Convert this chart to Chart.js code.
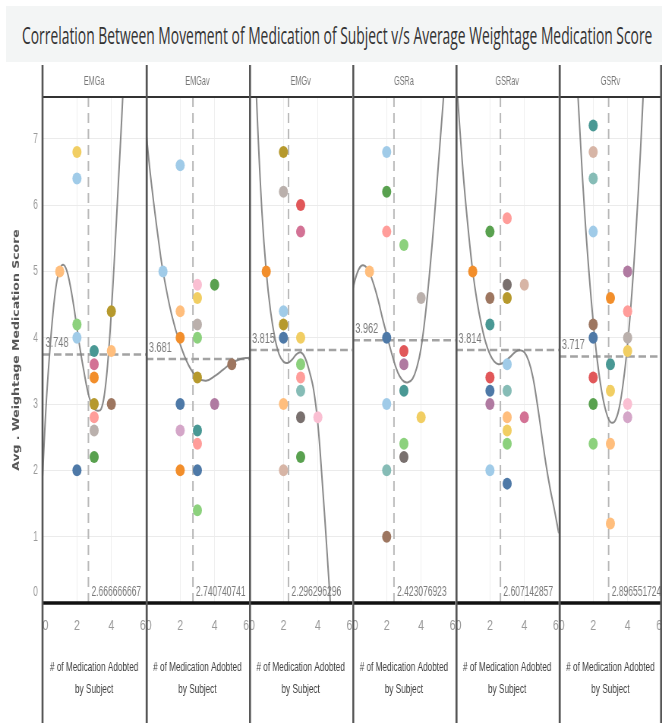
<!DOCTYPE html>
<html>
<head>
<meta charset="utf-8">
<script src="https://cdn.jsdelivr.net/npm/chart.js@4.4.1/dist/chart.umd.min.js"></script>
<style>
  html, body { margin: 0; padding: 0; background: #ffffff; overflow: hidden; }
  /* the whole dashboard is laid out wide, then condensed horizontally */
  #page { position: absolute; left: 0; top: 0; width: 872px; height: 723px;
          transform: scaleX(0.7592); transform-origin: 0 0; }
  #titleBand { position: absolute; left: 8px; top: 6px; width: 864px; height: 56px; background: #f3f5f5; }
  #title { position: absolute; top: 0; left: 0; height: 56px; line-height: 58px; white-space: nowrap;
           font-family: 'Open Sans', 'Liberation Sans', sans-serif; font-size: 24px; color: #333333;
           transform-origin: 0 50%; }
  canvas { position: absolute; top: 62px; }
</style>
</head>
<body>
<div id="page">
  <div id="titleBand"><div id="title">Correlation Between Movement of Medication of Subject v/s Average Weightage Medication Score</div></div>
  <canvas id="c0"></canvas><canvas id="c1"></canvas><canvas id="c2"></canvas>
  <canvas id="c3"></canvas><canvas id="c4"></canvas><canvas id="c5"></canvas>
</div>
<script>
// ---- data -------------------------------------------------------------
const panelNames = ['EMGa', 'EMGav', 'EMGv', 'GSRa', 'GSRav', 'GSRv'];
const yTickValues = [0, 1, 2, 3, 4, 5, 6, 7];
const xTickValues = [0, 2, 4, 6];
const xAxisTitle = ['# of Medication Adobted', 'by Subject'];
const yAxisTitle = 'Avg . Weightage Medication Score';

// reference lines: average score and average number of medications per panel
const avgScore = [3.748, 3.681, 3.815, 3.962, 3.814, 3.717];
const avgMeds = [2.666666667, 2.740740741, 2.296296296, 2.423076923, 2.607142857, 2.896551724];

// marks: medications adopted, average score, subject (colour key)
const emgaMeds    = [1, 2, 2, 2, 2, 2, 3, 3, 3, 3, 3, 3, 3, 4, 4, 4];
const emgaScore   = [5.0, 6.8, 6.4, 4.2, 4.0, 2.0, 3.8, 3.6, 3.4, 3.0, 2.8, 2.6, 2.2, 4.4, 3.8, 3.0];
const emgaSubject = [3, 7, 1, 5, 1, 0, 8, 14, 2, 6, 11, 13, 4, 6, 3, 18];

const emgavMeds    = [1, 2, 2, 2, 2, 2, 2, 3, 3, 3, 3, 3, 3, 3, 3, 3, 4, 4, 5];
const emgavScore   = [5.0, 6.6, 4.4, 4.0, 3.0, 2.6, 2.0, 4.8, 4.6, 4.2, 4.0, 3.4, 2.6, 2.4, 2.0, 1.4, 4.8, 3.0, 3.6];
const emgavSubject = [1, 1, 3, 2, 0, 17, 2, 15, 7, 13, 5, 6, 8, 11, 0, 5, 4, 16, 18];

const emgvMeds    = [1, 2, 2, 2, 2, 2, 2, 2, 3, 3, 3, 3, 3, 3, 3, 3, 4];
const emgvScore   = [5.0, 6.8, 6.2, 4.4, 4.2, 4.0, 3.0, 2.0, 6.0, 5.6, 4.0, 3.6, 3.4, 3.2, 2.8, 2.2, 2.8];
const emgvSubject = [2, 6, 13, 1, 6, 0, 3, 19, 10, 14, 7, 5, 11, 9, 12, 4, 15];

const gsraMeds    = [1, 2, 2, 2, 2, 2, 2, 2, 3, 3, 3, 3, 3, 3, 4, 4];
const gsraScore   = [5.0, 6.8, 6.2, 5.6, 4.0, 3.0, 2.0, 1.0, 5.4, 3.8, 3.6, 3.2, 2.4, 2.2, 4.6, 2.8];
const gsraSubject = [3, 1, 4, 11, 0, 1, 9, 18, 5, 10, 16, 8, 5, 12, 13, 7];

const gsravMeds    = [1, 2, 2, 2, 2, 2, 2, 2, 3, 3, 3, 3, 3, 3, 3, 3, 3, 4, 4];
const gsravScore   = [5.0, 5.6, 4.6, 4.2, 3.4, 3.2, 3.0, 2.0, 5.8, 4.8, 4.6, 3.6, 3.2, 2.8, 2.6, 2.4, 1.8, 4.8, 2.8];
const gsravSubject = [2, 4, 18, 8, 10, 0, 16, 1, 11, 12, 6, 1, 9, 3, 7, 5, 0, 19, 14];

const gsrvMeds    = [2, 2, 2, 2, 2, 2, 2, 2, 2, 3, 3, 3, 3, 3, 4, 4, 4, 4, 4, 4];
const gsrvScore   = [7.2, 6.8, 6.4, 5.6, 4.2, 4.0, 3.4, 3.0, 2.4, 4.6, 3.6, 3.2, 2.4, 1.2, 5.0, 4.4, 4.0, 3.8, 3.0, 2.8];
const gsrvSubject = [8, 19, 9, 1, 18, 0, 10, 4, 5, 2, 8, 7, 3, 3, 16, 11, 13, 7, 15, 17];

// polynomial trend curves, sampled
const emgaTrendMeds   = [0, 0.2, 0.4, 0.6, 0.8, 1.0, 1.2, 1.4, 1.6, 1.8, 2.0, 2.2, 2.4, 2.6, 2.8, 3.0, 3.2, 3.4, 3.6, 3.8, 4.0, 4.2, 4.4, 4.6, 4.8];
const emgaTrendScore  = [1.9, 2.95, 3.72, 4.35, 4.8, 5.03, 5.1, 5.02, 4.8, 4.5, 4.15, 3.8, 3.5, 3.22, 3.03, 2.93, 2.9, 2.92, 3.15, 3.65, 4.4, 5.3, 6.3, 7.3, 8.4];
const emgavTrendMeds  = [0, 0.25, 0.5, 0.75, 1, 1.5, 2, 2.5, 3, 3.5, 4, 4.5, 5, 5.5, 6];
const emgavTrendScore = [7.15, 6.5, 5.95, 5.45, 5.0, 4.35, 3.9, 3.58, 3.4, 3.35, 3.42, 3.52, 3.62, 3.68, 3.7];
const emgvTrendMeds   = [0.3, 0.5, 0.75, 1.0, 1.25, 1.5, 1.75, 2.0, 2.25, 2.5, 2.75, 3.0, 3.25, 3.5, 3.75, 4.0, 4.25, 4.5, 4.75];
const emgvTrendScore  = [8.5, 7.2, 5.9, 5.0, 4.4, 4.0, 3.75, 3.64, 3.62, 3.67, 3.75, 3.78, 3.7, 3.5, 3.22, 2.7, 1.85, 0.9, -0.1];
const gsraTrendMeds   = [0, 0.25, 0.5, 0.75, 1, 1.25, 1.5, 1.75, 2, 2.25, 2.5, 2.75, 3, 3.25, 3.5, 3.75, 4, 4.25, 4.5, 4.75, 5, 5.25, 5.5];
const gsraTrendScore  = [4.7, 4.95, 5.08, 5.08, 4.98, 4.8, 4.57, 4.3, 4.05, 3.8, 3.58, 3.42, 3.34, 3.33, 3.38, 3.55, 3.85, 4.35, 5.0, 5.75, 6.6, 7.45, 8.3];
const gsravTrendMeds  = [0, 0.25, 0.5, 0.75, 1, 1.25, 1.5, 1.75, 2, 2.25, 2.5, 2.75, 3, 3.25, 3.5, 3.75, 4, 4.25, 4.5, 4.75, 5, 5.25, 5.5, 5.75, 6];
const gsravTrendScore = [8.1, 7.15, 6.3, 5.6, 5.0, 4.55, 4.2, 3.93, 3.75, 3.64, 3.6, 3.62, 3.67, 3.73, 3.79, 3.81, 3.78, 3.65, 3.4, 3.0, 2.55, 2.1, 1.72, 1.4, 1.05];
const gsrvTrendMeds   = [1.0, 1.25, 1.5, 1.75, 2.0, 2.25, 2.5, 2.75, 3.0, 3.25, 3.5, 3.75, 4.0, 4.25, 4.5, 4.75, 5.0];
const gsrvTrendScore  = [8.2, 7.0, 5.9, 5.0, 4.24, 3.63, 3.18, 2.88, 2.73, 2.74, 2.93, 3.33, 3.91, 4.69, 5.66, 6.83, 8.2];

// ---- styling ------------------------------------------------------------
const TABLEAU20 = ['#4e79a7', '#a0cbe8', '#f28e2b', '#ffbe7d', '#59a14f', '#8cd17d', '#b6992d', '#f1ce63',
                   '#499894', '#86bcb6', '#e15759', '#ff9d9a', '#79706e', '#bab0ac', '#d37295', '#fabfd2',
                   '#b07aa1', '#d4a6c8', '#9d7660', '#d7b5a6'];
const FONT = "'Liberation Sans', Arial, sans-serif";
const Y_MAX = 7.63;
const AXIS_W = 56, PANEL_W = 136, CANVAS_H = 661, TOP_PAD = 35, X_AXIS_H = 120;

const panels = [
  { meds: emgaMeds,  score: emgaScore,  subject: emgaSubject,  tMeds: emgaTrendMeds,  tScore: emgaTrendScore },
  { meds: emgavMeds, score: emgavScore, subject: emgavSubject, tMeds: emgavTrendMeds, tScore: emgavTrendScore },
  { meds: emgvMeds,  score: emgvScore,  subject: emgvSubject,  tMeds: emgvTrendMeds,  tScore: emgvTrendScore },
  { meds: gsraMeds,  score: gsraScore,  subject: gsraSubject,  tMeds: gsraTrendMeds,  tScore: gsraTrendScore },
  { meds: gsravMeds, score: gsravScore, subject: gsravSubject, tMeds: gsravTrendMeds, tScore: gsravTrendScore },
  { meds: gsrvMeds,  score: gsrvScore,  subject: gsrvSubject,  tMeds: gsrvTrendMeds,  tScore: gsrvTrendScore },
];

const toPoints = (xs, ys) => xs.map((x, i) => ({ x, y: ys[i] }));

// narrow text: draw with a horizontal squeeze
function narrowText(ctx, text, x, y, align, squeeze) {
  ctx.save();
  ctx.translate(x, y);
  ctx.scale(squeeze, 1);
  ctx.textAlign = align;
  ctx.fillText(text, 0, 0);
  ctx.restore();
}

// header, panel frame, reference labels and axis titles
const panelDecor = {
  id: 'panelDecor',
  afterDatasetsDraw(chart, args, opts) {
    const { ctx, chartArea: a, scales: { x, y } } = chart;
    const k = opts.k;
    ctx.save();
    ctx.font = `14px ${FONT}`;
    ctx.fillStyle = '#7a7a7a';
    ctx.textBaseline = 'middle';
    narrowText(ctx, String(avgScore[k]), a.left + 4, y.getPixelForValue(avgScore[k]) - 11, 'left', 0.86);
    narrowText(ctx, String(avgMeds[k]), x.getPixelForValue(avgMeds[k]) + 4, a.bottom - 11, 'left', 0.8);
    ctx.restore();
  },
  afterDraw(chart, args, opts) {
    const { ctx, chartArea: a, scales: { y } } = chart;
    const k = opts.k;
    const H = chart.height;
    const cx = (a.left + a.right) / 2;
    ctx.save();
    ctx.textBaseline = 'middle';
    // panel header
    ctx.font = `12px ${FONT}`;
    ctx.fillStyle = '#777';
    narrowText(ctx, panelNames[k], cx, 20, 'center', 0.8);
    // header rule and base rule
    ctx.strokeStyle = '#333';
    ctx.lineWidth = 2;
    ctx.beginPath(); ctx.moveTo(a.left, a.top); ctx.lineTo(a.right, a.top); ctx.stroke();
    ctx.strokeStyle = '#111';
    ctx.lineWidth = 3.5;
    ctx.beginPath(); ctx.moveTo(a.left, a.bottom); ctx.lineTo(a.right, a.bottom); ctx.stroke();
    // panel dividers
    ctx.strokeStyle = '#555';
    ctx.lineWidth = 2.6;
    const lx = k === 0 ? a.left : a.left + 1.3;
    ctx.beginPath(); ctx.moveTo(lx, 3); ctx.lineTo(lx, H); ctx.stroke();
    if (k === panelNames.length - 1) {
      ctx.beginPath(); ctx.moveTo(a.right - 1.3, 3); ctx.lineTo(a.right - 1.3, H); ctx.stroke();
    }
    // x axis title
    ctx.font = `13.5px ${FONT}`;
    ctx.fillStyle = '#404040';
    narrowText(ctx, xAxisTitle[0], cx, 605, 'center', 0.8);
    narrowText(ctx, xAxisTitle[1], cx, 627, 'center', 0.8);
    // y axis labels and title on the first panel
    if (k === 0) {
      ctx.font = `14px ${FONT}`;
      ctx.fillStyle = '#9a9a9a';
      yTickValues.forEach(v => {
        let py = y.getPixelForValue(v);
        if (v === 0) py -= 11;
        narrowText(ctx, String(v), a.left - 6, py, 'right', 0.8);
      });
      ctx.save();
      ctx.translate(22, (a.top + a.bottom) / 2);
      ctx.rotate(-Math.PI / 2);
      ctx.font = `bold 12.5px 'DejaVu Sans', sans-serif`;
      ctx.fillStyle = '#555';
      ctx.textAlign = 'center';
      ctx.fillText(yAxisTitle, 0, 0);
      ctx.restore();
    }
    ctx.restore();
  }
};

panels.forEach((p, k) => {
  const canvas = document.getElementById('c' + k);
  const w = k === 0 ? AXIS_W + PANEL_W : PANEL_W;
  canvas.width = w;
  canvas.height = CANVAS_H;
  canvas.style.left = (k === 0 ? 0 : AXIS_W + PANEL_W * k) + 'px';

  new Chart(canvas, {
    type: 'scatter',
    data: {
      datasets: [
        {
          data: toPoints(p.meds, p.score),
          backgroundColor: p.subject.map(s => TABLEAU20[s]),
          borderWidth: 0,
          pointRadius: 6,
          pointHoverRadius: 6,
          order: 0
        },
        {
          data: toPoints(p.tMeds, p.tScore),
          showLine: true,
          pointRadius: 0,
          borderColor: 'rgba(125,125,125,0.9)',
          borderWidth: 2,
          tension: 0.4,
          order: 1
        },
        {
          data: [{ x: 0, y: avgScore[k] }, { x: 6, y: avgScore[k] }],
          showLine: true,
          pointRadius: 0,
          borderColor: '#a3a3a3',
          borderWidth: 2.5,
          borderDash: [10, 5],
          order: 2
        },
        {
          data: [{ x: avgMeds[k], y: 0 }, { x: avgMeds[k], y: Y_MAX }],
          showLine: true,
          pointRadius: 0,
          borderColor: '#b8b8b8',
          borderWidth: 2,
          borderDash: [10, 6],
          order: 3
        }
      ]
    },
    options: {
      responsive: false,
      animation: false,
      events: [],
      layout: { autoPadding: false, padding: { top: TOP_PAD, left: 0, right: 0, bottom: 0 } },
      plugins: { legend: { display: false }, tooltip: { enabled: false }, panelDecor: { k } },
      scales: {
        x: {
          type: 'linear', min: 0, max: 6,
          afterBuildTicks: s => { s.ticks = xTickValues.map(v => ({ value: v })); },
          afterFit: s => { s.height = X_AXIS_H; s.paddingLeft = 0; s.paddingRight = 0; },
          ticks: { align: 'inner', color: '#9a9a9a', padding: 15, maxRotation: 0, autoSkip: false,
                   font: { family: FONT, size: 14 } },
          grid: { color: '#efefef', lineWidth: 1, drawTicks: false },
          border: { display: false }
        },
        y: {
          type: 'linear', min: 0, max: Y_MAX,
          afterBuildTicks: s => { s.ticks = yTickValues.map(v => ({ value: v })); },
          afterFit: s => { s.width = k === 0 ? AXIS_W : 0; s.paddingTop = 0; s.paddingBottom = 0; },
          ticks: { display: false },
          grid: { color: '#ebebeb', lineWidth: 1, drawTicks: false },
          border: { display: false }
        }
      }
    },
    plugins: [panelDecor]
  });
});

// fit the title across the band
const title = document.getElementById('title');
const tw = title.scrollWidth;
const target = 830;
title.style.transform = `scaleX(${target / tw})`;
title.style.left = ((864 - target) / 2 + 4) + 'px';
</script>
</body>
</html>
